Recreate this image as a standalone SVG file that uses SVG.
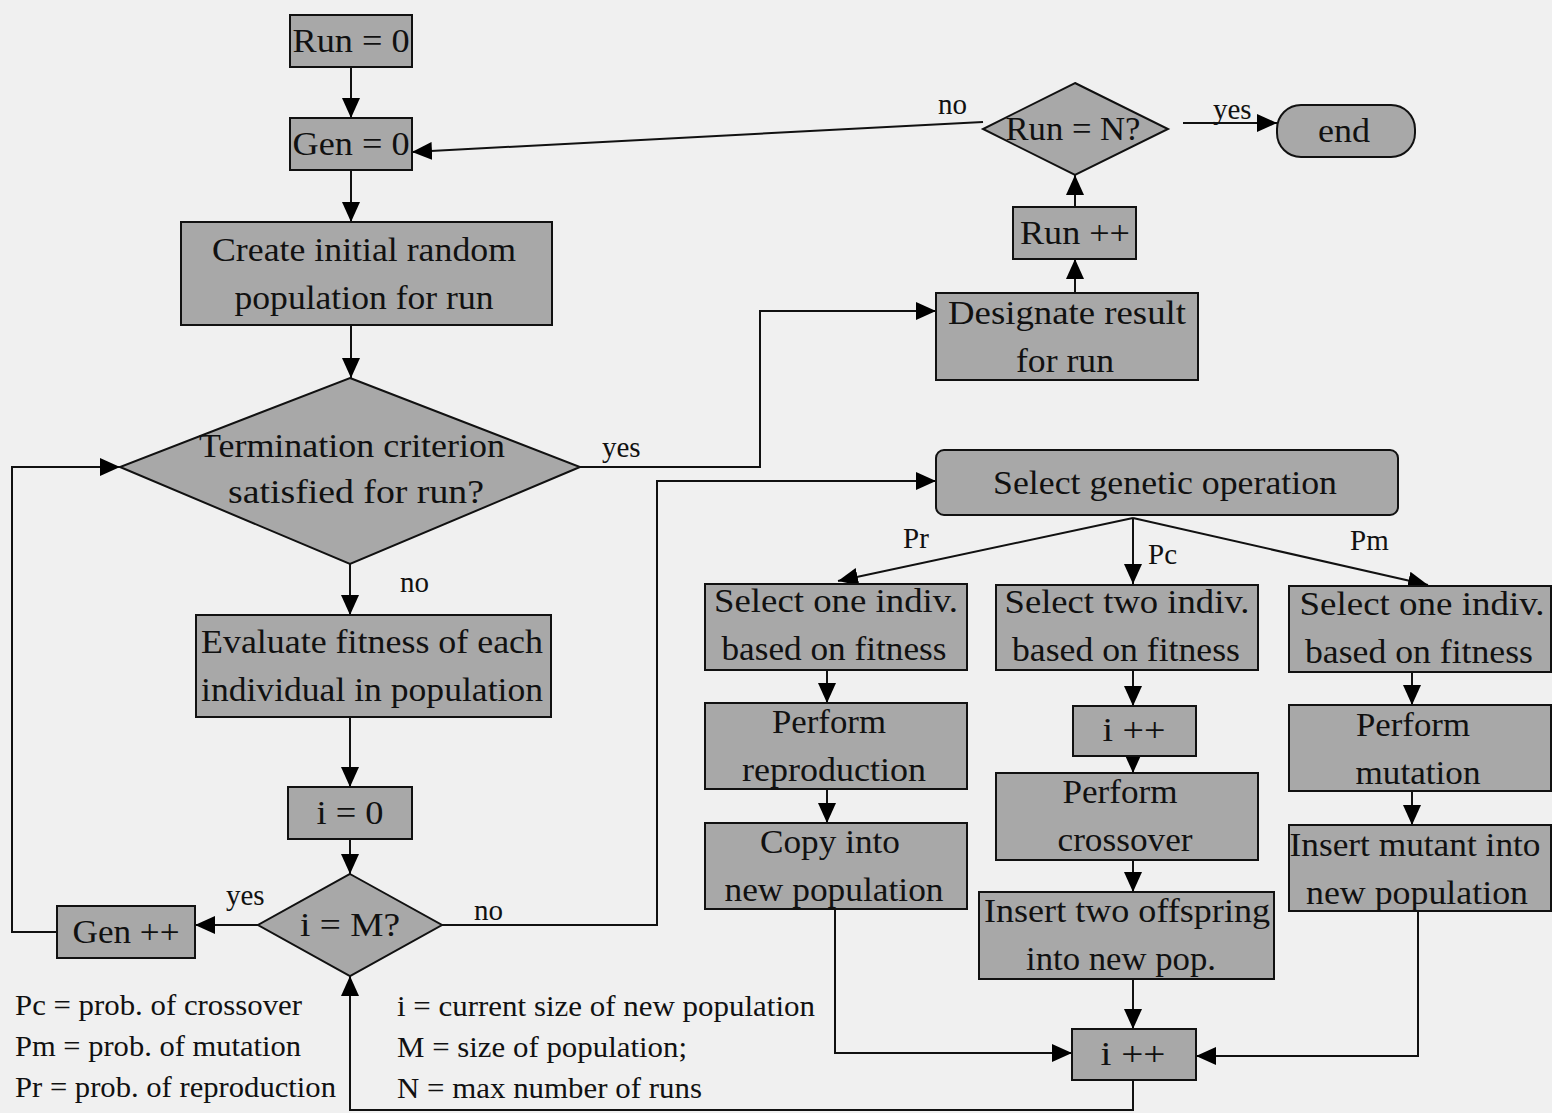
<svg xmlns="http://www.w3.org/2000/svg" width="1552" height="1113" viewBox="0 0 1552 1113" font-family="'Liberation Serif', serif">
<defs>
<marker id="ah" markerUnits="userSpaceOnUse" markerWidth="22" markerHeight="18" refX="20" refY="9" orient="auto">
<path d="M0,0 L20,9 L0,18 Z" fill="#000"/>
</marker>
<style>
.n{fill:#a8a8a8;stroke:#111;stroke-width:2}
.t{font-family:'Liberation Serif',serif;font-size:34px;fill:#111;text-anchor:middle}
.l{font-family:'Liberation Serif',serif;font-size:29px;fill:#111}
.c{fill:none;stroke:#111;stroke-width:2}
.a{fill:none;stroke:#111;stroke-width:2;marker-end:url(#ah)}
</style>
</defs>
<rect width="1552" height="1113" fill="#f0f0f0"/>

<g id="connectors">
<path class="a" d="M351,67 V118"/>
<path class="a" d="M351,170 V222"/>
<path class="a" d="M351,325 V378"/>
<path class="a" d="M350,564 V615"/>
<path class="a" d="M350,717 V787"/>
<path class="a" d="M350,839 V874"/>
<path class="a" d="M258,925 H195"/>
<path class="a" d="M57,932 H12 V467 H120"/>
<path class="a" d="M442,925 H657 V481 H936"/>
<path class="a" d="M580,467 H760 V311 H936"/>
<path class="a" d="M1075,293 V259"/>
<path class="a" d="M1075,207 V175"/>
<path class="a" d="M983,122 L412,152"/>
<path class="a" d="M1183,123 H1277"/>
<path class="a" d="M1133,518 L838,581"/>
<path class="a" d="M1133,518 V584"/>
<path class="a" d="M1133,518 L1428,585"/>
<path class="a" d="M827,670 V703"/>
<path class="a" d="M827,789 V823"/>
<path class="a" d="M835,909 V1053 H1072"/>
<path class="a" d="M1133,670 V706"/>
<path class="a" d="M1133,756 V773"/>
<path class="a" d="M1133,860 V892"/>
<path class="a" d="M1133,979 V1029"/>
<path class="a" d="M1412,672 V705"/>
<path class="a" d="M1412,791 V825"/>
<path class="a" d="M1418,911 V1056 H1196"/>
<path class="a" d="M1133,1080 V1110 H350 V976"/>
<text class="l" x="400" y="592">no</text>
<text class="l" x="226" y="905">yes</text>
<text class="l" x="474" y="920">no</text>
<text class="l" x="602" y="457">yes</text>
<text class="l" x="938" y="114">no</text>
<text class="l" x="1213" y="119">yes</text>
<text class="l" x="903" y="548" font-size="31">Pr</text>
<text class="l" x="1148" y="564" font-size="31">Pc</text>
<text class="l" x="1350" y="550" font-size="31">Pm</text>
</g>

<g id="legend">
<text class="l" x="15" y="1015" textLength="287" lengthAdjust="spacingAndGlyphs">Pc = prob. of crossover</text>
<text class="l" x="15" y="1056" textLength="286" lengthAdjust="spacingAndGlyphs">Pm = prob. of mutation</text>
<text class="l" x="15" y="1097" textLength="321" lengthAdjust="spacingAndGlyphs">Pr = prob. of reproduction</text>
<text class="l" x="397" y="1016" textLength="418" lengthAdjust="spacingAndGlyphs">i = current size of new population</text>
<text class="l" x="397" y="1057" textLength="290" lengthAdjust="spacingAndGlyphs">M = size of population;</text>
<text class="l" x="397" y="1098" textLength="305" lengthAdjust="spacingAndGlyphs">N = max number of runs</text>
</g>

<g id="run0"><rect class="n" x="290" y="15" width="122" height="52"/><text class="t" x="351" y="52" textLength="117" lengthAdjust="spacingAndGlyphs">Run = 0</text></g>
<g id="gen0"><rect class="n" x="290" y="118" width="122" height="52"/><text class="t" x="351" y="155" textLength="117" lengthAdjust="spacingAndGlyphs">Gen = 0</text></g>
<g id="create"><rect class="n" x="181" y="222" width="371" height="103"/><text class="t" x="364" y="261" textLength="304" lengthAdjust="spacingAndGlyphs">Create initial random</text><text class="t" x="364" y="309" textLength="259" lengthAdjust="spacingAndGlyphs">population for run</text></g>
<g id="term"><polygon class="n" points="350,378 580,467 350,564 120,467"/><text class="t" x="352" y="457" textLength="306" lengthAdjust="spacingAndGlyphs">Termination criterion</text><text class="t" x="356" y="503" textLength="256" lengthAdjust="spacingAndGlyphs">satisfied for run?</text></g>
<g id="eval"><rect class="n" x="196" y="615" width="355" height="102"/><text class="t" x="372" y="653" textLength="342" lengthAdjust="spacingAndGlyphs">Evaluate fitness of each</text><text class="t" x="372" y="701" textLength="342" lengthAdjust="spacingAndGlyphs">individual in population</text></g>
<g id="i0"><rect class="n" x="288" y="787" width="124" height="52"/><text class="t" x="350" y="824" textLength="67" lengthAdjust="spacingAndGlyphs">i = 0</text></g>
<g id="ieqm"><polygon class="n" points="350,874 442,925 350,976 258,925"/><text class="t" x="350" y="936" textLength="100" lengthAdjust="spacingAndGlyphs">i = M?</text></g>
<g id="genpp"><rect class="n" x="57" y="906" width="138" height="52"/><text class="t" x="126" y="943" textLength="107" lengthAdjust="spacingAndGlyphs">Gen ++</text></g>
<g id="runeqn"><polygon class="n" points="1075,83 1168,129 1075,175 983,129"/><text class="t" x="1073" y="140" textLength="135" lengthAdjust="spacingAndGlyphs">Run = N?</text></g>
<g id="end"><rect class="n" x="1277" y="105" width="138" height="52" rx="24"/><text class="t" x="1344" y="142" textLength="52" lengthAdjust="spacingAndGlyphs">end</text></g>
<g id="runpp"><rect class="n" x="1013" y="207" width="123" height="52"/><text class="t" x="1075" y="244" textLength="110" lengthAdjust="spacingAndGlyphs">Run ++</text></g>
<g id="designate"><rect class="n" x="936" y="293" width="262" height="87"/><text class="t" x="1067" y="324" textLength="238" lengthAdjust="spacingAndGlyphs">Designate result</text><text class="t" x="1065" y="372" textLength="98" lengthAdjust="spacingAndGlyphs">for run</text></g>
<g id="selectop"><rect class="n" x="936" y="450" width="462" height="65" rx="8"/><text class="t" x="1165" y="494" textLength="344" lengthAdjust="spacingAndGlyphs">Select genetic operation</text></g>
<g id="sel1"><rect class="n" x="705" y="584" width="262" height="86"/><text class="t" x="836" y="612" textLength="244" lengthAdjust="spacingAndGlyphs">Select one indiv.</text><text class="t" x="834" y="660" textLength="225" lengthAdjust="spacingAndGlyphs">based on fitness</text></g>
<g id="repro"><rect class="n" x="705" y="703" width="262" height="86"/><text class="t" x="829" y="733" textLength="114" lengthAdjust="spacingAndGlyphs">Perform</text><text class="t" x="834" y="781" textLength="184" lengthAdjust="spacingAndGlyphs">reproduction</text></g>
<g id="copy"><rect class="n" x="705" y="823" width="262" height="86"/><text class="t" x="830" y="853" textLength="140" lengthAdjust="spacingAndGlyphs">Copy into</text><text class="t" x="834" y="901" textLength="219" lengthAdjust="spacingAndGlyphs">new population</text></g>
<g id="sel2"><rect class="n" x="996" y="585" width="262" height="85"/><text class="t" x="1127" y="613" textLength="245" lengthAdjust="spacingAndGlyphs">Select two indiv.</text><text class="t" x="1126" y="661" textLength="228" lengthAdjust="spacingAndGlyphs">based on fitness</text></g>
<g id="ipp1"><rect class="n" x="1073" y="706" width="123" height="50"/><text class="t" x="1134" y="741" textLength="63" lengthAdjust="spacingAndGlyphs">i ++</text></g>
<g id="cross"><rect class="n" x="996" y="773" width="262" height="87"/><text class="t" x="1120" y="803" textLength="115" lengthAdjust="spacingAndGlyphs">Perform</text><text class="t" x="1125" y="851" textLength="135" lengthAdjust="spacingAndGlyphs">crossover</text></g>
<g id="insert2"><rect class="n" x="979" y="892" width="295" height="87"/><text class="t" x="1127" y="922" textLength="286" lengthAdjust="spacingAndGlyphs">Insert two offspring</text><text class="t" x="1121" y="970" textLength="190" lengthAdjust="spacingAndGlyphs">into new pop.</text></g>
<g id="sel3"><rect class="n" x="1289" y="586" width="262" height="86"/><text class="t" x="1422" y="615" textLength="245" lengthAdjust="spacingAndGlyphs">Select one indiv.</text><text class="t" x="1419" y="663" textLength="228" lengthAdjust="spacingAndGlyphs">based on fitness</text></g>
<g id="mut"><rect class="n" x="1289" y="705" width="262" height="86"/><text class="t" x="1413" y="736" textLength="114" lengthAdjust="spacingAndGlyphs">Perform</text><text class="t" x="1418" y="784" textLength="125" lengthAdjust="spacingAndGlyphs">mutation</text></g>
<g id="insertm"><rect class="n" x="1289" y="825" width="262" height="86"/><text class="t" x="1415" y="856" textLength="251" lengthAdjust="spacingAndGlyphs">Insert mutant into</text><text class="t" x="1417" y="904" textLength="222" lengthAdjust="spacingAndGlyphs">new population</text></g>
<g id="ipp2"><rect class="n" x="1072" y="1029" width="124" height="51"/><text class="t" x="1133" y="1065" textLength="65" lengthAdjust="spacingAndGlyphs">i ++</text></g>
</svg>
